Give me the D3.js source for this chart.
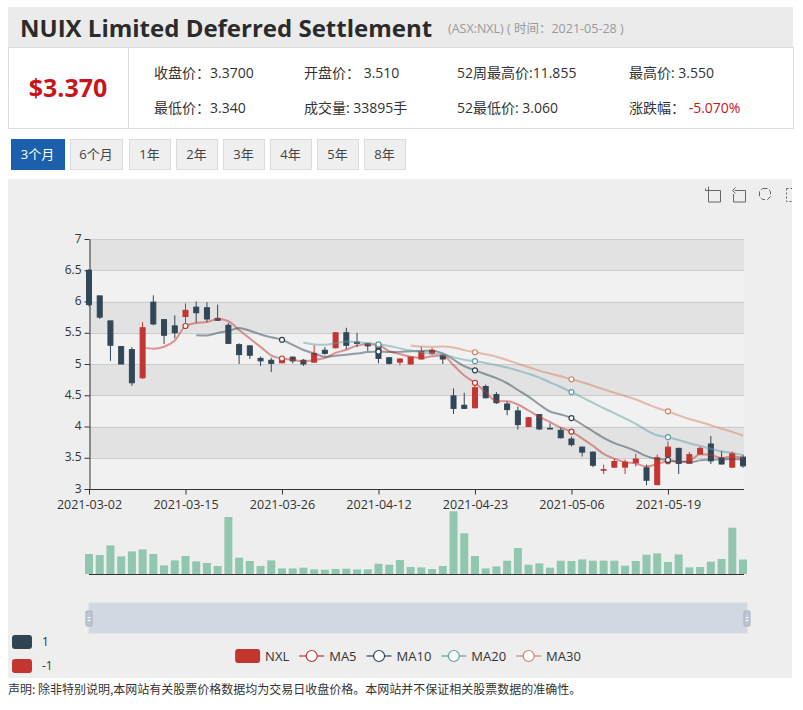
<!DOCTYPE html>
<html>
<head>
<meta charset="utf-8">
<script src="https://cdn.jsdelivr.net/npm/d3@7"></script>
<style>
body { margin: 0; background: #fff; }
svg { display: block; font-family: "Open Sans", "Noto Sans CJK SC", sans-serif; }
</style>
</head>
<body>
<svg id="chart" width="803" height="710"></svg>
<script>
// trading days shown (3 months)
var dates = ["2021-03-02","2021-03-03","2021-03-04","2021-03-05","2021-03-08","2021-03-09","2021-03-10","2021-03-11","2021-03-12",
    "2021-03-15","2021-03-16","2021-03-17","2021-03-18","2021-03-19","2021-03-22","2021-03-23","2021-03-24","2021-03-25",
    "2021-03-26","2021-03-29","2021-03-30","2021-03-31","2021-04-01","2021-04-06","2021-04-07","2021-04-08","2021-04-09",
    "2021-04-12","2021-04-13","2021-04-14","2021-04-15","2021-04-16","2021-04-19","2021-04-20","2021-04-21","2021-04-22",
    "2021-04-23","2021-04-26","2021-04-27","2021-04-28","2021-04-29","2021-04-30","2021-05-03","2021-05-04","2021-05-05",
    "2021-05-06","2021-05-07","2021-05-10","2021-05-11","2021-05-12","2021-05-13","2021-05-14","2021-05-17","2021-05-18",
    "2021-05-19","2021-05-20","2021-05-21","2021-05-24","2021-05-25","2021-05-26","2021-05-27","2021-05-28"];

var opens  = [6.50,6.09,5.69,5.28,5.23,4.78,5.99,5.71,5.61,5.76,5.91,5.90,5.73,5.62,5.31,5.29,5.09,5.06,5.02,5.11,5.06,5.03,5.22,5.26,5.50,5.35,5.33,5.30,5.10,5.03,5.00,
              5.08,5.17,5.14,4.49,4.34,4.30,4.64,4.51,4.36,4.25,4.00,4.19,3.97,3.94,3.80,3.67,3.59,3.30,3.35,3.35,3.42,3.34,3.07,3.52,3.65,3.41,3.56,3.72,3.50,3.35,3.51];
var highs  = [6.52,6.09,5.69,5.28,5.27,5.67,6.10,5.71,5.78,5.97,6.00,5.99,5.95,5.66,5.33,5.30,5.12,5.10,5.10,5.12,5.08,5.30,5.27,5.51,5.58,5.50,5.34,5.35,5.11,5.09,5.12,
              5.28,5.26,5.15,4.61,4.54,4.69,4.67,4.55,4.40,4.32,4.15,4.20,4.05,3.98,3.84,3.68,3.60,3.39,3.48,3.47,3.56,3.39,3.55,3.76,3.66,3.59,3.68,3.85,3.61,3.60,3.55];
var lows   = [5.92,5.72,5.05,5.00,4.65,4.76,5.62,5.32,5.41,5.66,5.66,5.67,5.69,5.33,5.00,5.08,4.97,4.87,5.01,5.01,4.97,5.02,5.15,5.25,5.24,5.27,5.21,5.01,4.99,4.98,4.99,
              5.07,5.14,5.00,4.20,4.28,4.29,4.45,4.36,4.18,3.95,3.99,3.95,3.96,3.81,3.68,3.52,3.35,3.24,3.34,3.24,3.36,3.06,3.06,3.51,3.24,3.40,3.55,3.40,3.39,3.34,3.34];
var closes = [5.95,5.75,5.30,5.00,4.70,5.58,5.64,5.46,5.50,5.86,5.82,5.72,5.70,5.33,5.15,5.14,5.05,5.01,5.09,5.05,5.00,5.17,5.17,5.50,5.30,5.33,5.29,5.09,5.01,5.08,5.11,
              5.20,5.22,5.08,4.29,4.29,4.62,4.46,4.38,4.27,4.03,4.14,3.96,3.96,3.82,3.71,3.59,3.38,3.31,3.44,3.43,3.48,3.14,3.50,3.67,3.41,3.55,3.65,3.45,3.40,3.57,3.37];
var volumes = [46900,44500,67000,41300,53000,57700,46900,20200,31900,42200,29500,25800,18800,133600,38200,30500,18800,31900,13100,13100,14800,
               10800,10100,11700,12400,10800,10800,24100,21800,32800,16400,15500,11700,18800,147000,95400,42200,13100,17800,31200,60900,
               21800,24800,14800,31200,30500,34200,31200,31200,31200,19500,30500,45200,48300,28100,45900,15500,16400,28800,35200,108500,33895];

var priceTicks = [3, 3.5, 4, 4.5, 5, 5.5, 6, 6.5, 7];
var dateTicks = ["2021-03-02","2021-03-15","2021-03-26","2021-04-12","2021-04-23","2021-05-06","2021-05-19"];
var rangeButtons = ["3个月","6个月","1年","2年","3年","4年","5年","8年"];
var maDays = [5, 10, 20, 30];
var maColors = ["#c23531", "#2f4554", "#61a0a8", "#d48265"];
var upColor = "#c23531", downColor = "#314656", volColor = "#91c7ae";

var svg = d3.select("#chart");

// ---- header ----
svg.append("rect").attr("x", 8).attr("y", 7).attr("width", 785).attr("height", 41).attr("fill", "#ebebeb");
svg.append("rect").attr("x", 8.5).attr("y", 47.5).attr("width", 785).attr("height", 81)
    .attr("fill", "#fff").attr("stroke", "#ddd");
svg.append("line").attr("x1", 128.5).attr("x2", 128.5).attr("y1", 48).attr("y2", 128).attr("stroke", "#ddd");

svg.append("text").attr("x", 20).attr("y", 37)
    .style("font-size", "24px").style("font-weight", "bold").attr("fill", "#2b2b2b")
    .text("NUIX Limited Deferred Settlement");
svg.append("text").attr("x", 448).attr("y", 33)
    .style("font-size", "12.5px").attr("fill", "#999")
    .text("(ASX:NXL) ( 时间：2021-05-28 )");

svg.append("text").attr("x", 68).attr("y", 97).attr("text-anchor", "middle")
    .style("font-size", "25px").style("font-weight", "bold").attr("fill", "#c9141c")
    .text("$3.370");

var infoRows = [
    ["收盘价：3.3700", "开盘价： 3.510", "52周最高价:11.855", "最高价: 3.550"],
    ["最低价：3.340", "成交量: 33895手", "52最低价: 3.060", "涨跌幅： "]
];
var infoX = [154, 304, 457, 629];
infoRows.forEach(function(row, r) {
    row.forEach(function(t, c) {
        var txt = svg.append("text").attr("x", infoX[c]).attr("y", 78 + r * 35)
            .style("font-size", "14px").attr("fill", "#333").text(t);
        if (r === 1 && c === 3) txt.append("tspan").attr("fill", "#c9141c").text("-5.070%");
    });
});

// ---- period buttons ----
var btnX = [11, 70, 129, 176, 223, 270, 317, 364];
var btnW = [53, 52, 41, 41, 41, 41, 41, 41];
rangeButtons.forEach(function(b, i) {
    svg.append("rect").attr("x", btnX[i] + 0.5).attr("y", 139.5).attr("width", btnW[i]).attr("height", 30)
        .attr("fill", i === 0 ? "#1b5fad" : "#efefef").attr("stroke", i === 0 ? "#1b5fad" : "#dcdcdc");
    svg.append("text").attr("x", btnX[i] + btnW[i] / 2).attr("y", 159).attr("text-anchor", "middle")
        .style("font-size", "13px").attr("fill", i === 0 ? "#fff" : "#444").text(b);
});

// ---- chart panel ----
svg.append("clipPath").attr("id", "panelClip")
    .append("rect").attr("x", 8).attr("y", 179).attr("width", 784).attr("height", 499);
var panel = svg.append("g").attr("clip-path", "url(#panelClip)");
panel.append("rect").attr("x", 8).attr("y", 179).attr("width", 784).attr("height", 499).attr("fill", "#eeeeee");

var x = d3.scalePoint().domain(dates).range([89, 743]);
var y = d3.scaleLinear().domain([3, 7]).range([489, 239]);
var yVol = d3.scaleLinear().domain([0, 150000]).range([574, 510]);

// alternating split areas
for (var k = 0; k < priceTicks.length - 1; k++) {
    panel.append("rect")
        .attr("x", 89).attr("width", 655)
        .attr("y", y(priceTicks[k + 1])).attr("height", y(priceTicks[k]) - y(priceTicks[k + 1]))
        .attr("fill", k % 2 === 0 ? "rgba(250,250,250,0.3)" : "rgba(200,200,200,0.3)");
}
panel.selectAll(".split").data(priceTicks.slice(1)).enter().append("line")
    .attr("x1", 89).attr("x2", 744)
    .attr("y1", d => Math.round(y(d)) + 0.5).attr("y2", d => Math.round(y(d)) + 0.5)
    .attr("stroke", "#ccc");

// axes
var yAxis = panel.append("g").attr("transform", "translate(89.5,0)")
    .call(d3.axisLeft(y).tickValues(priceTicks).tickSize(5).tickSizeOuter(0).tickFormat(d3.format("~g")));
var xAxis = panel.append("g").attr("transform", "translate(0,489.5)")
    .call(d3.axisBottom(x).tickValues(dateTicks).tickSize(5).tickSizeOuter(0));
xAxis.select(".domain").attr("d", "M89,0H744");
[yAxis, xAxis].forEach(function(a) {
    a.selectAll("path, line").attr("stroke", "#333");
    a.selectAll("text").attr("fill", "#333").style("font-size", "12px")
        .style("font-family", "\"Open Sans\", sans-serif");
});
yAxis.selectAll("text").attr("x", -8).attr("dy", "0.26em");
xAxis.selectAll("text").attr("y", 11).style("font-size", "12.5px");

// candles
var candles = panel.append("g");
dates.forEach(function(d, i) {
    var col = closes[i] > opens[i] ? upColor : downColor;
    var cx = x(d);
    candles.append("line").attr("x1", cx).attr("x2", cx)
        .attr("y1", y(highs[i])).attr("y2", y(lows[i])).attr("stroke", col);
    var top = y(Math.max(opens[i], closes[i])), bot = y(Math.min(opens[i], closes[i]));
    candles.append("rect").attr("x", cx - 2.5).attr("width", 5)
        .attr("y", top).attr("height", Math.max(0.01, bot - top))
        .attr("fill", col).attr("stroke", col);
});

// moving averages, worked out from the closes the same way the source chart does
function movingAverage(n) {
    return closes.map(function(c, i) {
        return i < n ? null : d3.mean(closes.slice(i - n + 1, i + 1));
    });
}
var maLine = d3.line()
    .defined(d => d.v !== null)
    .x(d => x(d.date)).y(d => y(d.v))
    .curve(d3.curveMonotoneX);
maDays.forEach(function(n, s) {
    var pts = movingAverage(n).map((v, i) => ({ date: dates[i], v: v, i: i }));
    panel.append("path").datum(pts)
        .attr("d", maLine).attr("fill", "none")
        .attr("stroke", maColors[s]).attr("stroke-width", 2).attr("stroke-opacity", 0.5);
    panel.selectAll(".sym" + n).data(pts.filter(p => p.v !== null && p.i % 9 === 0)).enter()
        .append("circle")
        .attr("cx", d => x(d.date)).attr("cy", d => y(d.v)).attr("r", 2.5)
        .attr("fill", "#fff").attr("stroke", maColors[s]).attr("stroke-width", 1.2);
});

// volume bars
panel.selectAll(".vol").data(dates).enter().append("rect")
    .attr("x", d => x(d) - 4).attr("width", 8)
    .attr("y", (d, i) => yVol(volumes[i])).attr("height", (d, i) => yVol(0) - yVol(volumes[i]))
    .attr("fill", volColor);
panel.append("line").attr("x1", 89).attr("x2", 744).attr("y1", 574.5).attr("y2", 574.5).attr("stroke", "#333");

// data zoom slider
panel.append("rect").attr("x", 89).attr("y", 603).attr("width", 658).attr("height", 30)
    .attr("fill", "rgba(167,183,203,0.4)").attr("stroke", "#d6dbe3");
[89, 747].forEach(function(hx) {
    panel.append("rect").attr("x", hx - 3).attr("y", 611).attr("width", 6).attr("height", 15).attr("rx", 1)
        .attr("fill", "#bdc6d3").attr("stroke", "#a7b1c0");
    panel.append("line").attr("x1", hx - 1.5).attr("x2", hx + 1.5).attr("y1", 617.5).attr("y2", 617.5).attr("stroke", "#fff");
    panel.append("line").attr("x1", hx - 1.5).attr("x2", hx + 1.5).attr("y1", 620.5).attr("y2", 620.5).attr("stroke", "#fff");
});

// toolbox icons
var tool = panel.append("g").attr("fill", "none").attr("stroke", "#666").attr("stroke-width", 1);
tool.append("path").attr("d", "M705.5,188.5v2h3 M708.5,186.5v15.5h12v-11.5h-15");
tool.append("path").attr("d", "M734.5,190.5h11v11.5h-12v-8 M735.5,187.5l-3,3l3,3");
tool.append("path").attr("d", "M762.5,188.5h5l3,3v5l-3,3h-5l-3,-3v-5z").attr("stroke-dasharray", "5,2");
tool.append("path").attr("d", "M786.5,188.5h6 M786.5,188.5v13h6").attr("stroke-dasharray", "2,2");

// visual map pieces
[["1", downColor], ["-1", upColor]].forEach(function(p, i) {
    panel.append("rect").attr("x", 12).attr("y", 635 + i * 24).attr("width", 20).attr("height", 14).attr("rx", 3)
        .attr("fill", p[1] === downColor ? "#2f4554" : p[1]);
    panel.append("text").attr("x", 42).attr("y", 646 + i * 24)
        .style("font-size", "12px").attr("fill", "#333").text(p[0]);
});

// legend
var legendItems = [{ name: "NXL", color: upColor, candle: true }].concat(
    maDays.map((n, s) => ({ name: "MA" + n, color: maColors[s] })));
var legend = panel.append("g");
var lx = 0;
legendItems.forEach(function(it) {
    var g = legend.append("g").attr("transform", "translate(" + lx + ",0)");
    if (it.candle) {
        g.append("rect").attr("x", 0).attr("y", -7).attr("width", 25).attr("height", 14).attr("rx", 3).attr("fill", it.color);
    } else {
        g.append("line").attr("x1", 0).attr("x2", 25).attr("y1", 0).attr("y2", 0)
            .attr("stroke", it.color).attr("stroke-width", 2).attr("stroke-opacity", 0.6);
        g.append("circle").attr("cx", 12.5).attr("cy", 0).attr("r", 5.5)
            .attr("fill", "#fff").attr("stroke", it.color).attr("stroke-width", 1.2);
    }
    var t = g.append("text").attr("x", 30).attr("y", 4.5).style("font-size", "13px").attr("fill", "#333").text(it.name);
    lx += 30 + t.node().getComputedTextLength() + 10;
});
legend.attr("transform", "translate(" + (408 - (lx - 10) / 2) + ",656)");

// footer note
svg.append("text").attr("x", 8).attr("y", 694).style("font-size", "12px").attr("fill", "#333")
    .style("font-family", "\"Noto Sans CJK SC\", sans-serif")
    .text("声明: 除非特别说明,本网站有关股票价格数据均为交易日收盘价格。本网站并不保证相关股票数据的准确性。");
</script>
</body>
</html>
